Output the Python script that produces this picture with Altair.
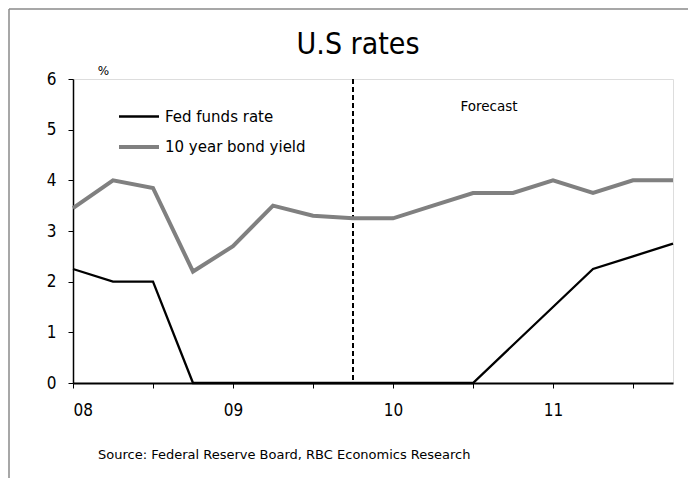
import altair as alt
import pandas as pd

# ---- data ----
quarters = ["08Q1", "08Q2", "08Q3", "08Q4", "09Q1", "09Q2", "09Q3", "09Q4",
            "10Q1", "10Q2", "10Q3", "10Q4", "11Q1", "11Q2", "11Q3", "11Q4"]
fed_funds = [2.25, 2.0, 2.0, 0, 0, 0, 0, 0, 0, 0, 0, 0.75, 1.5, 2.25, 2.5, 2.75]
bond_yield = [3.45, 4.0, 3.85, 2.2, 2.7, 3.5, 3.3, 3.25, 3.25, 3.5, 3.75, 3.75, 4.0, 3.75, 4.0, 4.0]
series_names = ["Fed funds rate", "10 year bond yield"]
series_colors = ["#000000", "#808080"]
series_widths = [2.3, 4]
year_labels = ["08", "09", "10", "11"]
y_ticks = [0, 1, 2, 3, 4, 5, 6]
forecast_start = "09Q4"
forecast_label = {"pos": 10.4, "value": 5.45, "text": "Forecast"}
title_text = "U.S rates"
source_text = "Source: Federal Reserve Board, RBC  Economics Research"


def qpos(q):
    return (int(q[:2]) - 8) * 4 + int(q[3]) - 1


rows = []
for q, f, b in zip(quarters, fed_funds, bond_yield):
    rows.append({"pos": qpos(q), "quarter": q, "series": series_names[0], "value": f})
    rows.append({"pos": qpos(q), "quarter": q, "series": series_names[1], "value": b})
df = pd.DataFrame(rows)

W, H = 600, 304
NARROW = "Liberation Sans Narrow, DejaVu Sans Condensed, Liberation Sans, sans-serif"
TEXT = "DejaVu Sans, Liberation Sans, sans-serif"

x_scale = alt.Scale(domain=[0, len(quarters) - 1], nice=False, zero=False)
y_scale = alt.Scale(domain=[0, 6], nice=False)

label_expr = " : ".join(
    f"datum.value == {i * 4} ? '{lab}'" for i, lab in enumerate(year_labels)
) + " : ''"

legend = alt.Legend(
    title=None, orient="none", legendX=44, legendY=16,
    symbolType="stroke", symbolSize=1600, labelFontSize=15, labelFont=TEXT,
    labelColor="black", rowPadding=-14, labelOffset=4,
)

lines = alt.Chart(df).mark_line(clip=False).encode(
    x=alt.X("pos:Q", scale=x_scale, axis=alt.Axis(
        values=list(range(len(quarters))), labelExpr=label_expr, tickSize=5,
        labelPadding=14, labelFontSize=17, labelFont=NARROW, labelColor="black",
        domainColor="black", domainWidth=2, tickColor="black", tickWidth=1,
        grid=False, title=None)),
    y=alt.Y("value:Q", scale=y_scale, axis=alt.Axis(
        values=y_ticks, tickSize=5, labelPadding=12, labelFontSize=17,
        labelFont=NARROW, labelColor="black", domainColor="black",
        domainWidth=1.5, tickColor="black", grid=False,
        title="%", titleAngle=0, titleX=30, titleY=-9, titleAlign="center",
        titleBaseline="middle", titleFontSize=12, titleFontWeight="normal",
        titleFont=TEXT, titleColor="black")),
    color=alt.Color("series:N", scale=alt.Scale(domain=series_names, range=series_colors),
                    legend=legend),
    strokeWidth=alt.StrokeWidth("series:N", scale=alt.Scale(domain=series_names, range=series_widths),
                                legend=legend),
    order=alt.Order("pos:Q"),
)

rule_df = pd.DataFrame({"pos": [qpos(forecast_start)]})
vline = alt.Chart(rule_df).mark_rule(color="black", strokeWidth=2, strokeDash=[5, 3]).encode(
    x=alt.X("pos:Q", scale=x_scale), y=alt.value(0), y2=alt.value(H))

fc = alt.Chart(pd.DataFrame([forecast_label])).mark_text(
    font=TEXT, fontSize=13.5, color="black", align="center", baseline="middle").encode(
    x=alt.X("pos:Q", scale=x_scale), y=alt.Y("value:Q", scale=y_scale), text="text:N")

title = alt.Chart(pd.DataFrame({"t": [title_text]})).mark_text(
    font=NARROW, fontSize=30, color="black", align="center", baseline="middle").encode(
    x=alt.value(285), y=alt.value(-34), text="t:N")

source = alt.Chart(pd.DataFrame({"t": [source_text]})).mark_text(
    font=TEXT, fontSize=13, color="black", align="left", baseline="middle").encode(
    x=alt.value(25), y=alt.value(376), text="t:N")

frame_top = alt.Chart(pd.DataFrame({"k": [0]})).mark_rule(color="#8a8a8a", strokeWidth=1.5).encode(
    x=alt.value(-64), x2=alt.value(W + 30), y=alt.value(-70))
frame_left = alt.Chart(pd.DataFrame({"k": [0]})).mark_rule(color="#8a8a8a", strokeWidth=1.5).encode(
    x=alt.value(-64), y=alt.value(-70), y2=alt.value(H + 120))

chart = alt.layer(frame_top, frame_left, vline, lines, fc, title, source).properties(
    width=W, height=H,
    autosize=alt.AutoSizeParams(type="none"),
    padding={"left": 65, "top": 71, "right": 15, "bottom": 95},
).configure_view(stroke="black", strokeWidth=1).configure(background="white")

chart.save("out.html", embed_options={"renderer": "svg", "actions": False})
